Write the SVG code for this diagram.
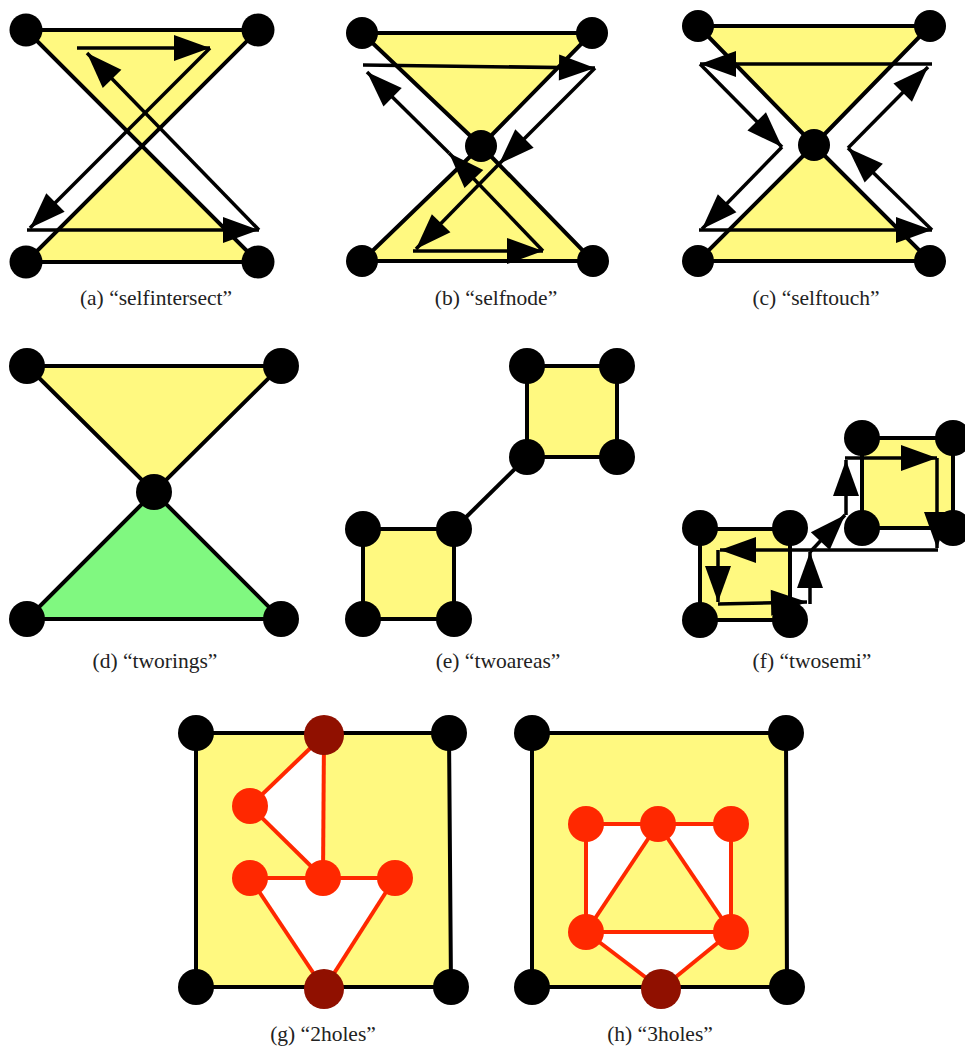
<svg xmlns="http://www.w3.org/2000/svg" width="965" height="1052" viewBox="0 0 965 1052">
<style>
.poly{fill:#FFF980;stroke:#000;stroke-width:4;stroke-linejoin:miter}
.green{fill:#80F880}
.edge{fill:none;stroke:#000;stroke-width:4}
.arr{fill:none;stroke:#000;stroke-width:3.5;marker-end:url(#ah)}
.red{fill:none;stroke:#FF2800;stroke-width:4}
.hole{fill:#fff;stroke:none}
.n{fill:#000}
.hn{fill:#FF2800}
.hr{fill:#901000}
.cap{font-family:"Liberation Serif",serif;font-size:21.5px;fill:#222;text-anchor:middle}
</style>
<defs>
<marker id="ah" markerUnits="userSpaceOnUse" markerWidth="36" markerHeight="26" refX="36" refY="13" orient="auto" overflow="visible">
<path d="M0,0 L36,13 L0,26 Z" fill="#000"/>
</marker>
</defs>

<!-- shapes -->
<g id="areas">
<path class="poly" d="M26,30 L258,30 L26,262 L258,262 Z"/>
<path class="poly" d="M362,33 L592,33 L481,146 L362,261 L593,261 L481,146 Z"/>
<path class="poly" d="M698,26 L930,26 L814,145 L698,261 L930,261 L814,145 Z"/>
<path class="poly" d="M27,366 L281,366 L154,492 Z"/>
<path class="poly green" d="M154,492 L281,619 L27,619 Z"/>
<rect class="poly" x="527" y="366" width="90" height="91"/>
<rect class="poly" x="363" y="529" width="91" height="90"/>
<rect class="poly" x="862" y="438" width="91" height="90"/>
<rect class="poly" x="700" y="529" width="90" height="91"/>
<path class="poly" d="M196,733 L449,733 L451,987 L196,987 Z"/>
<path class="hole" d="M324,735 L250,806 L323,878 Z"/>
<path class="hole" d="M250,878 L395,878 L324,989 Z"/>
<path class="poly" d="M532,733 L786,733 L787,987 L532,987 Z"/>
<path class="hole" d="M586,824 L658,824 L586,932 Z"/>
<path class="hole" d="M658,824 L731,824 L731,932 Z"/>
<path class="hole" d="M586,932 L731,932 L661,989 Z"/>
</g>

<g id="connectors">
<line class="edge" x1="454" y1="529" x2="527" y2="457"/>
<!-- a -->
<line class="arr" x1="77" y1="48" x2="210" y2="48"/>
<line class="arr" x1="210" y1="48" x2="30" y2="228"/>
<line class="arr" x1="27" y1="230" x2="259" y2="230"/>
<line class="arr" x1="259" y1="230" x2="87" y2="53"/>
<!-- b -->
<line class="arr" x1="363" y1="65" x2="595" y2="68"/>
<line class="arr" x1="595" y1="68" x2="499" y2="164"/>
<line class="arr" x1="499" y1="164" x2="416" y2="249"/>
<line class="arr" x1="413" y1="251" x2="543" y2="251"/>
<line class="arr" x1="543" y1="251" x2="449" y2="153"/>
<line class="arr" x1="449" y1="153" x2="367" y2="72"/>
<!-- c -->
<line class="arr" x1="932" y1="64" x2="700" y2="64"/>
<line class="arr" x1="700" y1="64" x2="782" y2="147"/>
<line class="arr" x1="782" y1="147" x2="702" y2="229"/>
<line class="arr" x1="699" y1="230" x2="932" y2="230"/>
<line class="arr" x1="932" y1="230" x2="848" y2="148"/>
<line class="arr" x1="848" y1="148" x2="928" y2="67"/>
<!-- f -->
<line class="arr" x1="845" y1="458" x2="937" y2="458"/>
<line class="arr" x1="937" y1="458" x2="937" y2="548"/>
<line class="arr" x1="938" y1="550" x2="720" y2="550"/>
<line class="arr" x1="718" y1="550" x2="718" y2="602"/>
<line class="arr" x1="718" y1="604" x2="807" y2="602"/>
<line class="arr" x1="810" y1="604" x2="810" y2="552"/>
<line class="arr" x1="810" y1="552" x2="845" y2="515"/>
<line class="arr" x1="846" y1="515" x2="846" y2="460"/>
<!-- g -->
<line class="red" x1="324" y1="735" x2="250" y2="806"/>
<line class="red" x1="250" y1="806" x2="323" y2="878"/>
<line class="red" x1="324" y1="735" x2="323" y2="878"/>
<line class="red" x1="250" y1="878" x2="395" y2="878"/>
<line class="red" x1="250" y1="878" x2="324" y2="989"/>
<line class="red" x1="395" y1="878" x2="324" y2="989"/>
<!-- h -->
<line class="red" x1="586" y1="824" x2="731" y2="824"/>
<line class="red" x1="586" y1="824" x2="586" y2="932"/>
<line class="red" x1="731" y1="824" x2="731" y2="932"/>
<line class="red" x1="658" y1="824" x2="586" y2="932"/>
<line class="red" x1="658" y1="824" x2="731" y2="932"/>
<line class="red" x1="586" y1="932" x2="731" y2="932"/>
<line class="red" x1="586" y1="932" x2="661" y2="989"/>
<line class="red" x1="731" y1="932" x2="661" y2="989"/>
</g>

<g id="panel-a">
<circle id="a1" class="n" cx="26" cy="30" r="16.5"/>
<circle id="a2" class="n" cx="258" cy="30" r="16.5"/>
<circle id="a3" class="n" cx="26" cy="262" r="16.5"/>
<circle id="a4" class="n" cx="258" cy="262" r="16.5"/>
</g>
<g id="panel-b">
<circle id="b1" class="n" cx="362" cy="33" r="16"/>
<circle id="b2" class="n" cx="592" cy="33" r="16"/>
<circle id="b3" class="n" cx="481" cy="146" r="16"/>
<circle id="b4" class="n" cx="362" cy="261" r="16"/>
<circle id="b5" class="n" cx="593" cy="261" r="16"/>
</g>
<g id="panel-c">
<circle id="c1" class="n" cx="698" cy="26" r="16"/>
<circle id="c2" class="n" cx="930" cy="26" r="16"/>
<circle id="c3" class="n" cx="814" cy="145" r="16"/>
<circle id="c4" class="n" cx="698" cy="261" r="16"/>
<circle id="c5" class="n" cx="930" cy="261" r="16"/>
</g>
<g id="panel-d">
<circle id="d1" class="n" cx="27" cy="366" r="18"/>
<circle id="d2" class="n" cx="281" cy="366" r="18"/>
<circle id="d3" class="n" cx="154" cy="492" r="18"/>
<circle id="d4" class="n" cx="27" cy="619" r="18"/>
<circle id="d5" class="n" cx="281" cy="619" r="18"/>
</g>
<g id="panel-e">
<circle id="e1" class="n" cx="527" cy="366" r="18"/>
<circle id="e2" class="n" cx="617" cy="366" r="18"/>
<circle id="e3" class="n" cx="527" cy="457" r="18"/>
<circle id="e4" class="n" cx="617" cy="457" r="18"/>
<circle id="e5" class="n" cx="363" cy="529" r="18"/>
<circle id="e6" class="n" cx="454" cy="529" r="18"/>
<circle id="e7" class="n" cx="363" cy="619" r="18"/>
<circle id="e8" class="n" cx="454" cy="619" r="18"/>
</g>
<g id="panel-f">
<circle id="f1" class="n" cx="862" cy="438" r="18"/>
<circle id="f2" class="n" cx="953" cy="438" r="18"/>
<circle id="f3" class="n" cx="862" cy="528" r="18"/>
<circle id="f4" class="n" cx="953" cy="528" r="18"/>
<circle id="f5" class="n" cx="700" cy="528" r="18"/>
<circle id="f6" class="n" cx="790" cy="528" r="18"/>
<circle id="f7" class="n" cx="700" cy="620" r="18"/>
<circle id="f8" class="n" cx="790" cy="620" r="18"/>
</g>
<g id="panel-g">
<circle id="g1" class="n" cx="196" cy="733" r="18"/>
<circle id="g2" class="n" cx="449" cy="733" r="18"/>
<circle id="g3" class="n" cx="196" cy="987" r="18"/>
<circle id="g4" class="n" cx="451" cy="987" r="18"/>
<circle id="g5" class="hr" cx="324" cy="735" r="20"/>
<circle id="g6" class="hr" cx="324" cy="989" r="20"/>
<circle id="g7" class="hn" cx="250" cy="806" r="18"/>
<circle id="g8" class="hn" cx="250" cy="878" r="18"/>
<circle id="g9" class="hn" cx="323" cy="878" r="18"/>
<circle id="g10" class="hn" cx="395" cy="878" r="18"/>
</g>
<g id="panel-h">
<circle id="h1" class="n" cx="532" cy="733" r="18"/>
<circle id="h2" class="n" cx="786" cy="733" r="18"/>
<circle id="h3" class="n" cx="532" cy="987" r="18"/>
<circle id="h4" class="n" cx="787" cy="987" r="18"/>
<circle id="h5" class="hr" cx="661" cy="989" r="20"/>
<circle id="h6" class="hn" cx="586" cy="824" r="18"/>
<circle id="h7" class="hn" cx="658" cy="824" r="18"/>
<circle id="h8" class="hn" cx="731" cy="824" r="18"/>
<circle id="h9" class="hn" cx="586" cy="932" r="18"/>
<circle id="h10" class="hn" cx="731" cy="932" r="18"/>
</g>

<g id="captions">
<text class="cap" x="156" y="305">(a) “selfintersect”</text>
<text class="cap" x="496" y="305">(b) “selfnode”</text>
<text class="cap" x="816" y="305">(c) “selftouch”</text>
<text class="cap" x="155" y="668">(d) “tworings”</text>
<text class="cap" x="498" y="668">(e) “twoareas”</text>
<text class="cap" x="812" y="668">(f) “twosemi”</text>
<text class="cap" x="323" y="1041">(g) “2holes”</text>
<text class="cap" x="660" y="1041">(h) “3holes”</text>
</g>
</svg>
